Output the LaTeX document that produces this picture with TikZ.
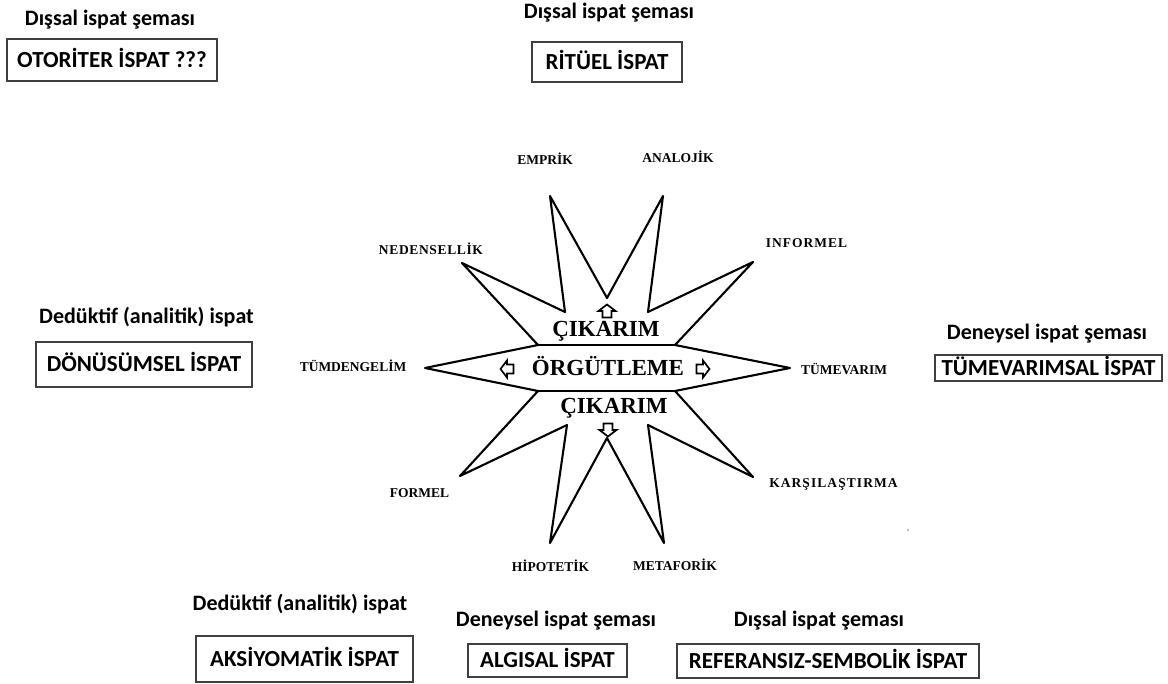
\documentclass[tikz,border=0pt]{standalone}
\usepackage{fontspec}
\setmainfont{Liberation Serif}
\newfontfamily\boxfont{Carlito}
\definecolor{boxgray}{HTML}{404040}
\tikzset{
  caption/.style={font=\boxfont\bfseries\fontsize{22}{26}\selectfont, inner sep=0pt,
    text height=14.2pt, text depth=0pt},
  proofbox/.style={font=\boxfont\bfseries\fontsize{23}{27}\selectfont, inner sep=0pt,
    text height=14.8pt, text depth=0pt, draw=boxgray, line width=1.6pt},
  starlabel/.style={font=\bfseries\fontsize{13.5}{16}\selectfont, inner sep=0pt,
    text height=8.9pt, text depth=0pt},
  widelabel/.style={starlabel, font=\bfseries\fontsize{13.5}{16}\selectfont\addfontfeature{LetterSpace=#1}},
  coretext/.style={font=\bfseries\fontsize{23}{27}\selectfont, inner sep=0pt,
    text height=15pt, text depth=0pt},
  starline/.style={draw=black, line width=2.1pt, line join=round},
  arrowline/.style={draw=black, line width=1.7pt, line join=miter},
  hollowarrow/.pic={\draw[arrowline] (0,-6.5) -- (8.5,0) -- (4.5,0) -- (4.5,6.5)
    -- (-4.5,6.5) -- (-4.5,0) -- (-8.5,0) -- cycle;}
}
\begin{document}
\begin{tikzpicture}[x=1pt,y=-1pt]
\useasboundingbox (0,0) rectangle (1168,684);

% twelve-pointed star around the central band
\draw[starline] (538,345) -- (462,263) -- (565,312) -- (550,196) -- (607,298)
  -- (663,196) -- (648,312) -- (753,262) -- (675,345) -- (790,368) -- (675,391)
  -- (753,477) -- (648,425) -- (664,543) -- (607,438) -- (550,543) -- (567,425)
  -- (460,476) -- (538,391) -- (425,368) -- cycle;
\draw[starline] (538,345) -- (675,345);
\draw[starline] (538,391) -- (675,391);

% core words and their arrows
\node[coretext] (cikarimtop) at (606,329) {ÇIKARIM};
\node[coretext] (orgutleme) at (608,368.5) {ÖRGÜTLEME};
\node[coretext] (cikarimbot) at (614,406) {ÇIKARIM};
\pic at (607,311) {hollowarrow};
\pic[rotate=180] at (608,430) {hollowarrow};
\pic[rotate=90] at (507,369) {hollowarrow};
\pic[rotate=-90] at (703,369) {hollowarrow};

% labels at the star tips
\node[starlabel] (emprik) at (545,160) {EMPRİK};
\node[starlabel] (analojik) at (678,158) {ANALOJİK};
\node[widelabel=4.8] (nedensellik) at (431,250) {NEDENSELLİK};
\node[widelabel=7.4] (informel) at (806.5,243) {INFORMEL};
\node[starlabel] (tumdengelim) at (353,367) {TÜMDENGELİM};
\node[starlabel] (tumevarim) at (844,370) {TÜMEVARIM};
\node[starlabel] (formel) at (419.5,493) {FORMEL};
\node[widelabel=8] (karsilastirma) at (833.5,483) {KARŞILAŞTIRMA};
\node[starlabel] (hipotetik) at (550.5,567) {HİPOTETİK};
\node[starlabel] (metaforik) at (675,566) {METAFORİK};
\fill[gray] (908,530) circle (0.8);

% proof schemes
\node[caption] (c1) at (110,18) {Dışsal ispat şeması};
\node[proofbox, minimum width=210pt, minimum height=42pt] (otoriter) at (112,60) {OTORİTER İSPAT ???};

\node[caption] (c2) at (609,11) {Dışsal ispat şeması};
\node[proofbox, minimum width=150pt, minimum height=40pt] (rituel) at (607,62) {RİTÜEL İSPAT};

\node[caption] (c3) at (146.5,316) {Dedüktif (analitik) ispat};
\node[proofbox, minimum width=216pt, minimum height=45pt] (donusumsel) at (144,364.5) {DÖNÜSÜMSEL İSPAT};

\node[caption] (c4) at (1047,332) {Deneysel ispat şeması};
\node[proofbox, minimum width=227pt, minimum height=26pt] (tumevarimsal) at (1048.5,368) {TÜMEVARIMSAL İSPAT};

\node[caption] (c5) at (300,603) {Dedüktif (analitik) ispat};
\node[proofbox, minimum width=217pt, minimum height=46pt] (aksiyomatik) at (304.5,659) {AKSİYOMATİK İSPAT};

\node[caption] (c6) at (556,619) {Deneysel ispat şeması};
\node[proofbox, minimum width=159pt, minimum height=33pt] (algisal) at (547.5,660.5) {ALGISAL İSPAT};

\node[caption] (c7) at (819,619) {Dışsal ispat şeması};
\node[proofbox, minimum width=302pt, minimum height=34pt] (referanssiz) at (828,661) {REFERANSIZ-SEMBOLİK İSPAT};
\end{tikzpicture}
\end{document}
